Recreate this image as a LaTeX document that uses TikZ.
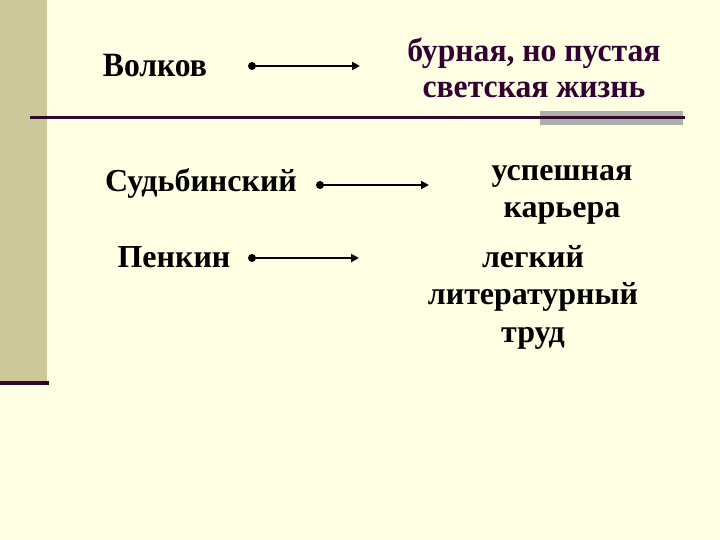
\documentclass[tikz,border=0pt]{standalone}
\usepackage{fontspec}
\setmainfont{Liberation Serif}
\newfontfamily\condserif[FakeStretch=0.93]{Liberation Serif}
\newfontfamily\slightserif[FakeStretch=0.96]{Liberation Serif}
\usetikzlibrary{arrows.meta}
\definecolor{bg}{HTML}{FFFFE3}
\definecolor{barc}{HTML}{CCC89A}
\definecolor{darkp}{HTML}{2E0A2E}
\definecolor{grayr}{HTML}{B0AEA8}
\definecolor{txtp}{HTML}{330033}
\tikzset{
  lefttxt/.style={font=\bfseries\fontsize{32}{38}\selectfont, text=black, anchor=base, inner sep=0pt},
  bigtxt/.style={font=\condserif\bfseries\fontsize{34}{38}\selectfont, text=black, anchor=base, inner sep=0pt},
  righttxt/.style={font=\bfseries\fontsize{32}{37.5}\selectfont, text=black, anchor=base, align=center, inner sep=0pt},
  toptxt/.style={font=\slightserif\bfseries\fontsize{33}{36}\selectfont, text=txtp, anchor=base, align=center, inner sep=0pt},
  conn/.style={line width=2.4pt, -{Triangle[length=8pt,width=8pt]}},
  dotc/.style={circle, fill=black, inner sep=0pt, minimum size=8pt},
}
\begin{document}
\begin{tikzpicture}[x=1pt,y=-1pt]
\fill[bg] (0,0) rectangle (720,540);
\useasboundingbox (0,0) rectangle (720,540);
\fill[barc] (0,0) rectangle (47,381);
\fill[darkp] (0,381) rectangle (49,385);
\fill[grayr] (540,111) rectangle (683,125);
\fill[darkp] (30,116) rectangle (685,119);
\node[bigtxt] (volkov) at (155,77) {Волков};
\node[toptxt] (volkovr) at (534,98) {бурная, но пустая\\светская жизнь};
\node[dotc] (d1) at (252,66) {};
\coordinate (e1) at (360,66);
\draw[conn] (d1.center) -- (e1);
\node[lefttxt] (sud) at (201,192) {Судьбинский};
\node[righttxt] (sudr) at (562,218) {успешная\\карьера};
\node[dotc] (d2) at (320,185) {};
\coordinate (e2) at (429,185);
\draw[conn] (d2.center) -- (e2);
\node[lefttxt] (pen) at (174,267) {Пенкин};
\node[righttxt] (penr) at (533,342) {легкий\\литературный\\труд};
\node[dotc] (d3) at (252,258) {};
\coordinate (e3) at (359,258);
\draw[conn] (d3.center) -- (e3);
\end{tikzpicture}
\end{document}
